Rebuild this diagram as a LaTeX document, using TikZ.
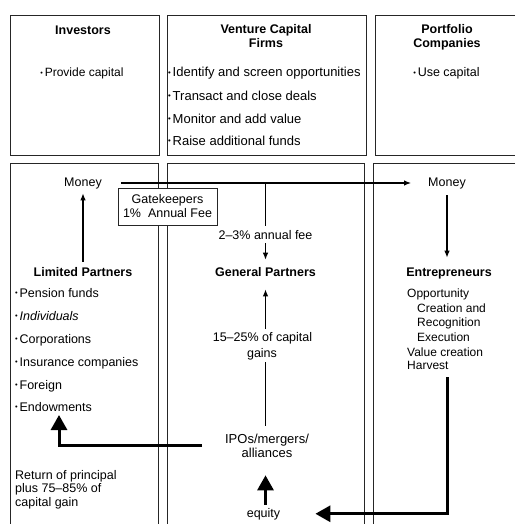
\documentclass[tikz,border=0pt]{standalone}
\usepackage{fontspec}
\usepackage{graphicx}
\setmainfont{Liberation Sans}
\usetikzlibrary{arrows.meta}
\newcommand\bul{\raisebox{1.7pt}{\scalebox{0.6}{\textbullet}}\hspace{1.8pt}}
\begin{document}
\begin{tikzpicture}[x=1pt,y=-1pt,
  every node/.style={inner sep=0pt, font=\fontsize{12.5}{14}\selectfont},
  small/.style={font=\fontsize{12}{14}\selectfont},
  wide/.style={font=\fontsize{13}{14}\selectfont},
  box/.style={draw=black!85, line width=0.8pt},
  ttl/.style={font=\fontsize{12.5}{14}\selectfont\bfseries, anchor=base},
  ctr/.style={anchor=base},
  lft/.style={anchor=base west},
  thinline/.style={line width=1.2pt},
  thinarrow/.style={line width=1.2pt, -{Latex[length=7pt,width=5.5pt]}},
  thickarrow/.style={line width=3pt, -{Triangle[length=15pt,width=16pt]}},
  gatebox/.style={draw=black!85, line width=0.8pt, fill=white, align=center,
    minimum width=99pt, minimum height=37pt},
]
\useasboundingbox (0,0) rectangle (515,524);

% ---- frames
\draw[box] (10,15) rectangle (159,155);
\draw[box] (167,15) rectangle (366,155);
\draw[box] (515,15) -- (375,15) -- (375,155) -- (515,155);
\draw[box] (10,524) -- (10,163) -- (158,163) -- (158,524);
\draw[box] (167,524) -- (167,163) -- (364,163) -- (364,524);
\draw[box] (515,163) -- (373,163) -- (373,524);

% ---- top row
\node[ttl] (inv) at (83,35) {Investors};
\node[ctr, small] (inv1) at (82,77) {\bul Provide capital};

\node[ttl] (vcf1) at (266,34) {Venture Capital};
\node[ttl] (vcf2) at (266,48) {Firms};
\node[lft, wide] (vc1) at (168,77) {\bul Identify and screen opportunities};
\node[lft, wide] (vc2) at (168,100) {\bul Transact and close deals};
\node[lft, wide] (vc3) at (168,123) {\bul Monitor and add value};
\node[lft, wide] (vc4) at (168,145) {\bul Raise additional funds};

\node[ttl] (pc1) at (447,34) {Portfolio};
\node[ttl] (pc2) at (447,48) {Companies};
\node[ctr] (pcu) at (446.5,77) {\bul Use capital};

% ---- bottom row, left
\node[ctr] (money1) at (83,186) {Money};
\node[ttl] (lp) at (83,276) {Limited Partners};
\node[lft] (lp1) at (15,297) {\bul Pension funds};
\node[lft] (lp2) at (15,320) {\bul \textit{Individuals}};
\node[lft] (lp3) at (15,343) {\bul Corporations};
\node[lft] (lp4) at (15,366) {\bul Insurance companies};
\node[lft] (lp5) at (15,389) {\bul Foreign};
\node[lft] (endow) at (15,411) {\bul Endowments};
\node[lft] (ret1) at (15,479) {Return of principal};
\node[lft] (ret2) at (15,492) {plus 75--85\% of};
\node[lft] (ret3) at (15,506) {capital gain};

% ---- bottom row, middle
\node[ctr] (fee) at (265.5,239) {2--3\% annual fee};
\node[ttl] (gp) at (265.5,276) {General Partners};
\node[ctr] (cg1) at (262.5,341) {15--25\% of capital};
\node[ctr] (cg2) at (262,357) {gains};
\node[ctr, wide] (ipo1) at (267,443) {IPOs/mergers/};
\node[ctr, wide] (ipo2) at (267,457) {alliances};
\node[ctr] (equity) at (263.5,517) {equity};

% ---- bottom row, right
\node[ctr] (money2) at (447,186) {Money};
\node[ttl] (ent) at (449,276) {Entrepreneurs};
\node[lft, small] (e1) at (407,297) {Opportunity};
\node[lft, small] (e2) at (417,312) {Creation and};
\node[lft, small] (e3) at (417,326) {Recognition};
\node[lft, small] (e4) at (417,341) {Execution};
\node[lft, small] (e5) at (407,356) {Value creation};
\node[lft, small] (harvest) at (407,369) {Harvest};

% ---- connectors
\draw[thinarrow, shorten <=19pt, shorten >=17pt] (money1) -- (money2);
\coordinate (j1) at (fee |- money1);
\draw[thinline, shorten >=3.5pt] (j1) -- (fee.north);
\node[gatebox] (gk) at (167.5,206.5) {Gatekeepers\\1\%\ \ Annual Fee};
\draw[thinarrow, shorten <=5pt, shorten >=4.5pt] (lp.north) -- (money1.south);
\draw[thinarrow, shorten <=4pt, shorten >=7pt] (fee.south) -- (gp.north);
\draw[thinarrow, shorten <=2.5pt, shorten >=13pt] (cg1.north -| gp) -- (gp.south);
\draw[thinline, shorten <=2.5pt, shorten >=7.5pt] (cg2.south -| gp) -- (ipo1.north -| gp);
\draw[thinarrow, shorten <=6.5pt, shorten >=9.5pt] (money2.south) -- (ent.north -| money2);

\coordinate (ipoL) at (202,445);
\coordinate (tipE) at (59,415);
\draw[thickarrow] (ipoL) -| (tipE);
\draw[thickarrow, shorten <=3pt, shorten >=18pt] (equity.north -| gp) -- (ipo2.south -| gp);
\draw[thickarrow, shorten <=8pt, shorten >=35pt] (harvest.south -| money2) |- (equity.east);
\end{tikzpicture}
\end{document}
